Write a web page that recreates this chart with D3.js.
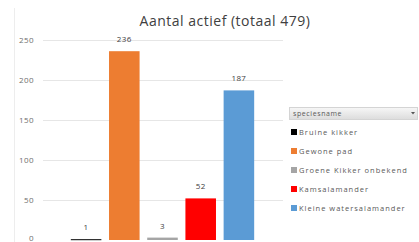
<!DOCTYPE html>
<html lang="nl">
<head>
  <meta charset="utf-8" />
  <title>Aantal actief</title>
  <script src="https://d3js.org/d3.v7.min.js"></script>
  <style>
    html, body {
      margin: 0;
      padding: 0;
      background: #ffffff;
      font-family: "Open Sans", "Liberation Sans", sans-serif;
    }
    .grid line {
      stroke: #e6e6e6;
      stroke-width: 1px;
    }
    .tick-label {
      fill: #6e6e6e;
      font-size: 8px;
      letter-spacing: 0.4px;
    }
    .value-label {
      fill: #404040;
      font-size: 8px;
      letter-spacing: 0.4px;
    }
    .legend-text {
      fill: #595959;
      font-size: 7.5px;
      letter-spacing: 1px;
    }
  </style>
</head>
<body>
  <svg id="chart" width="419" height="242"></svg>
  <script>
    // data
    const categories = ["Bruine kikker", "Gewone pad", "Groene Kikker onbekend", "Kamsalamander", "Kleine watersalamander"];
    const values = [1, 236, 3, 52, 187];
    const colors = ["#000000", "#ED7D31", "#A5A5A5", "#FF0000", "#5B9BD5"];
    const yTicks = [0, 50, 100, 150, 200, 250];
    const total = d3.sum(values);

    const svg = d3.select("#chart");

    const x = d3.scaleBand()
      .domain(categories)
      .range([67, 258])
      .paddingInner(0.2)
      .paddingOuter(0.1);

    const y = d3.scaleLinear()
      .domain([0, 250])
      .range([240, 40]);

    // faint chart border on the left
    svg.append("line")
      .attr("x1", 14.5).attr("x2", 14.5)
      .attr("y1", 8).attr("y2", 242)
      .attr("stroke", "#ededed");

    // title
    svg.append("text")
      .attr("x", 225)
      .attr("y", 26)
      .attr("text-anchor", "middle")
      .attr("fill", "#404040")
      .style("font-size", "14px")
      .style("letter-spacing", "0.5px")
      .text(`Aantal actief (totaal ${total})`);

    // gridlines
    svg.append("g")
      .attr("class", "grid")
      .selectAll("line")
      .data(yTicks.filter(d => d > 0))
      .join("line")
      .attr("x1", 43)
      .attr("x2", 283)
      .attr("y1", d => Math.round(y(d)) + 0.5)
      .attr("y2", d => Math.round(y(d)) + 0.5);

    // y tick labels
    svg.append("g")
      .selectAll("text")
      .data(yTicks)
      .join("text")
      .attr("class", "tick-label")
      .attr("x", 34)
      .attr("y", d => Math.min(y(d) + 2.5, 241))
      .attr("text-anchor", "end")
      .text(d => d);

    // bars
    svg.append("g")
      .selectAll("rect")
      .data(values)
      .join("rect")
      .attr("x", (d, i) => x(categories[i]))
      .attr("width", x.bandwidth())
      .attr("y", d => y(d))
      .attr("height", d => Math.max(y(0) - y(d), 1))
      .attr("fill", (d, i) => colors[i]);

    // value labels
    svg.append("g")
      .selectAll("text")
      .data(values)
      .join("text")
      .attr("class", "value-label")
      .attr("x", (d, i) => x(categories[i]) + x.bandwidth() / 2)
      .attr("y", d => y(d) - 9)
      .attr("text-anchor", "middle")
      .text(d => d);

    // legend (pivot style with header)
    const legend = svg.append("g");

    const grad = svg.append("defs").append("linearGradient")
      .attr("id", "hdr")
      .attr("x1", 0).attr("y1", 0).attr("x2", 0).attr("y2", 1);
    grad.append("stop").attr("offset", "0%").attr("stop-color", "#f7f7f7");
    grad.append("stop").attr("offset", "100%").attr("stop-color", "#dcdcdc");

    legend.append("rect")
      .attr("x", 289.5).attr("y", 107.5)
      .attr("width", 128).attr("height", 12)
      .attr("fill", "url(#hdr)")
      .attr("stroke", "#d4d4d4");

    legend.append("text")
      .attr("class", "legend-text")
      .attr("x", 293)
      .attr("y", 116)
      .attr("fill", "#333")
      .style("font-size", "7px")
      .style("letter-spacing", "0.6px")
      .text("speciesname");

    legend.append("path")
      .attr("d", "M411,112 L415,112 L413,114.5 Z")
      .attr("fill", "#555");

    const item = legend.selectAll("g.item")
      .data(categories)
      .join("g")
      .attr("class", "item")
      .attr("transform", (d, i) => `translate(291, ${132 + i * 19})`);

    item.append("rect")
      .attr("x", 0).attr("y", -3)
      .attr("width", 6).attr("height", 6)
      .attr("fill", (d, i) => colors[i]);

    item.append("text")
      .attr("class", "legend-text")
      .attr("x", 8)
      .attr("y", 2.5)
      .text(d => d);
  </script>
</body>
</html>
